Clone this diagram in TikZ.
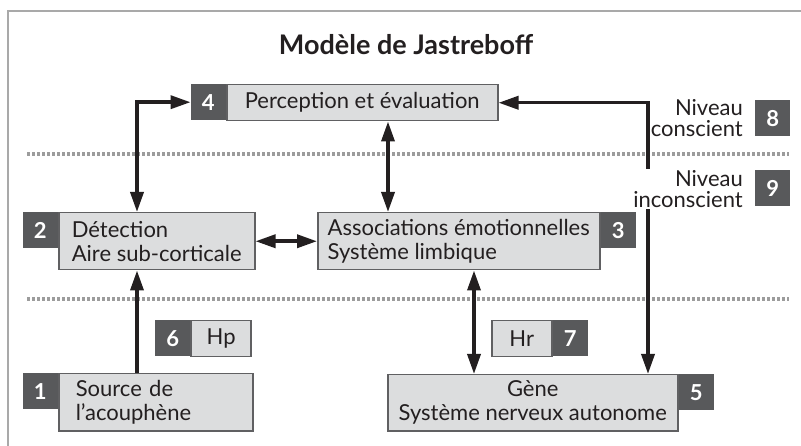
\documentclass[tikz,border=0pt]{standalone}
\usepackage{fontspec}
\setmainfont{Lato}
\usepackage{xcolor}
\usetikzlibrary{arrows.meta, positioning}
\definecolor{fond}{HTML}{DCDDDE}
\definecolor{fonce}{HTML}{58595B}
\definecolor{bord}{HTML}{606062}
\definecolor{cadre}{HTML}{A9A9A9}
\definecolor{pointille}{HTML}{9C9C9C}
\definecolor{trait}{HTML}{231F20}

\begin{document}
\begin{tikzpicture}[x=1pt, y=-1pt,
            every node/.style={font=\fontsize{22pt}{24pt}\selectfont, text=trait},
            etiq/.style={draw=bord, fill=fond, line width=1.5pt, inner sep=0pt},
            num/.style={fill=fonce, text=white, font=\fontsize{22pt}{24pt}\selectfont\bfseries, minimum width=35pt, minimum height=36pt, inner sep=0pt},
            niv/.style={align=right, anchor=east, fill=white, inner sep=1pt, font=\fontsize{22pt}{21pt}\selectfont},
            fl/.style={draw=trait, line width=3.5pt, >={Triangle[length=20pt, width=13pt]}},
            sep/.style={draw=pointille, line width=4.5pt, dash pattern=on 2.5pt off 2.5pt}]
            \useasboundingbox (0,0) rectangle (801,446);
            \draw[cadre, line width=1.5pt] (8,446) -- (8,11) -- (801,11);
            \draw[sep] (27,154) -- (789,154);
            \draw[sep] (27,299) -- (789,299);

            \node[font=\fontsize{27pt}{30pt}\selectfont\bfseries] (titre) at (406,45) {Modèle de Jastreboff};

            \node[etiq, minimum width=271pt, minimum height=36pt, anchor=north west] (b4) at (226,84) {Perception et évaluation};
            \node[num, anchor=north east] (n4) at (b4.north west) {4};
            \node[etiq, minimum width=196pt, minimum height=57pt, align=left, anchor=north west] (b2) at (58,212) {Détection\\Aire sub-corticale};
            \node[num, anchor=north east] (n2) at (b2.north west) {2};
            \node[etiq, minimum width=282pt, minimum height=57pt, align=left, anchor=north west] (b3) at (317,212) {Associations émotionnelles\\Système limbique};
            \node[num, anchor=north west] (n3) at (b3.north east) {3};
            \node[etiq, text width=160pt, inner xsep=17pt, minimum height=57pt, align=left, anchor=north west] (b1) at (58,373) {Source de\\l’acouphène};
            \node[num, anchor=north east] (n1) at (b1.north west) {1};
            \node[etiq, minimum width=290pt, minimum height=56pt, align=center, anchor=north west] (b5) at (387,374) {Gène\\Système nerveux autonome};
            \node[num, anchor=north west] (n5) at (b5.north east) {5};
            \node[num, anchor=north west] (n6) at (155,320) {6};
            \node[etiq, minimum width=60pt, minimum height=36pt, anchor=north west] (b6) at (n6.north east) {Hp};
            \node[etiq, minimum width=60pt, minimum height=36pt, anchor=north west] (b7) at (491,320) {Hr};
            \node[num, anchor=north west] (n7) at (b7.north east) {7};

            \coordinate (cg) at (137,0);
            \coordinate (cm) at (388,0);
            \coordinate (cd) at (474,0);
            \coordinate (cr) at (648,0);

            \draw[fl, <->] (n4.west) -| (cg |- b2.north);
            \draw[fl, <->] (b4.south -| cm) -- (b3.north -| cm);
            \draw[fl, <->] (b2.east) -- (b3.west);
            \draw[fl, ->] (cg |- b1.north) -- (cg |- b2.south);
            \draw[fl, <->] (cd |- b3.south) -- (cd |- b5.north);
            \draw[fl, <->] (b4.east) -| (cr |- b5.north);

            \node[num, anchor=north west] (n8) at (755,100) {8};
            \node[niv] (c8) at (744,118) {Niveau\\conscient};
            \node[num, anchor=north west] (n9) at (755,170) {9};
            \node[niv] (c9) at (744,189) {Niveau\\inconscient};
        \end{tikzpicture}
\end{document}
